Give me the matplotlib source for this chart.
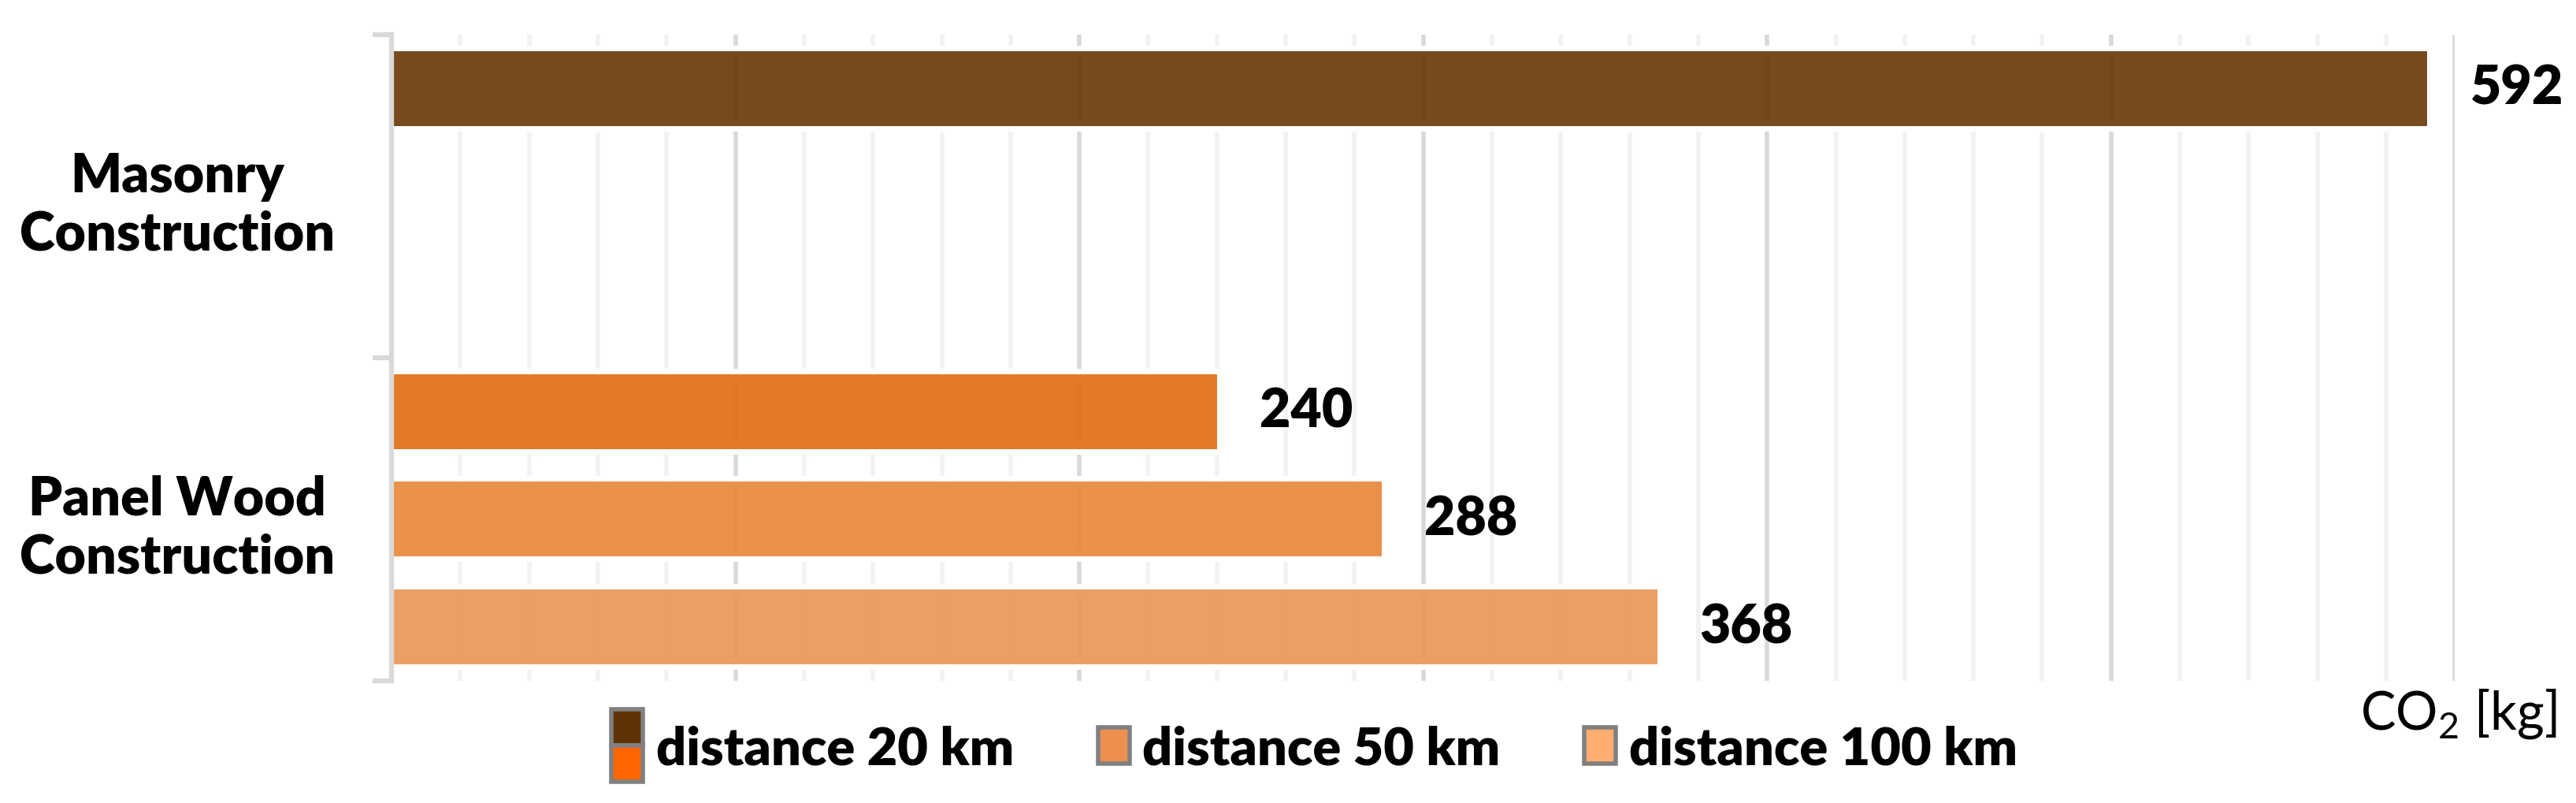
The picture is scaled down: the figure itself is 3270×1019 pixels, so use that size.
import matplotlib
matplotlib.use('Agg')
import matplotlib.pyplot as plt
from matplotlib.patches import Rectangle, Patch
from matplotlib.legend_handler import HandlerBase
from matplotlib.ticker import MultipleLocator, NullFormatter

# data (CO2 in kg)
categories = ['Masonry\nConstruction', 'Panel Wood\nConstruction']
series = ['distance 20 km', 'distance 50 km', 'distance 100 km']
masonry_co2 = [592, None, None]
panel_co2 = [240, 288, 368]

# bar colours (drawn with alpha) and legend swatch colours
masonry_colors = ['#683605', None, None]
panel_colors = ['#E26C0D', '#E88537', '#EA9551']
legend_colors = [['#5F3206', '#FF6600'], ['#EE8F4F'], ['#FFAD70']]

plt.rcParams['font.family'] = ['Lato', 'DejaVu Sans']
plt.rcParams['mathtext.fontset'] = 'custom'
plt.rcParams['mathtext.rm'] = 'Lato'

BOLD = 800


class StackedSquares(HandlerBase):
    # one square per colour, stacked vertically around the handle centre
    def create_artists(self, legend, orig_handle, xdescent, ydescent,
                       width, height, fontsize, trans):
        n = len(orig_handle)
        arts = []
        for k, p in enumerate(orig_handle):
            y = -ydescent + height / 2 - n * height / 2 + (n - 1 - k) * height
            r = Rectangle((-xdescent, y), width, height,
                          facecolor=p.get_facecolor(), edgecolor='#808080',
                          linewidth=4, transform=trans)
            arts.append(r)
        return arts


fig = plt.figure(figsize=(32.7, 10.2), dpi=100)
ax = fig.add_axes([0.152, 0.152, 0.801, 0.804])

values = [masonry_co2, panel_co2]
colors = [masonry_colors, panel_colors]
for c, (vals, cols) in enumerate(zip(values, colors)):
    for i, (v, col) in enumerate(zip(vals, cols)):
        if v is None:
            continue
        y = c * 3 + i + 0.5
        ax.barh(y, v, height=0.695, facecolor='none', edgecolor='white',
                linewidth=10, zorder=2)
        ax.barh(y, v, height=0.695, color=col, alpha=0.9, linewidth=0, zorder=3)
        ax.annotate(str(v), xy=(v, y), xytext=(39, 0), textcoords='offset points',
                    va='center', ha='left', fontsize=49, fontweight=BOLD)

ax.set_xlim(0, 600)
ax.set_ylim(6, 0)
ax.xaxis.set_major_locator(MultipleLocator(100))
ax.xaxis.set_minor_locator(MultipleLocator(20))
ax.grid(axis='x', which='major', color='#D9D9D9', linewidth=4)
ax.grid(axis='x', which='minor', color='#F2F2F2', linewidth=4)
ax.set_axisbelow(True)
ax.tick_params(axis='x', which='both', length=0, labelbottom=False)

for s in ['top', 'right', 'bottom']:
    ax.spines[s].set_visible(False)
ax.spines['left'].set_color('#D9D9D9')
ax.spines['left'].set_linewidth(4.5)
ax.spines['left'].set_zorder(5)

ax.set_yticks([0, 3, 6])
ax.yaxis.set_major_formatter(NullFormatter())
ax.set_yticks([1.5, 4.5], minor=True)
ax.set_yticklabels(categories, minor=True, fontsize=49, fontweight=BOLD,
                   multialignment='center')
ax.tick_params(axis='y', which='major', length=17, width=4.5, color='#D9D9D9')
ax.tick_params(axis='y', which='minor', length=0, pad=52)

handles = [tuple(Patch(facecolor=c) for c in cs) for cs in legend_colors]
fig.legend(handles, series, handler_map={tuple: StackedSquares()},
           loc='center left', bbox_to_anchor=(0.2373, 0.068), ncol=3,
           frameon=False, prop=dict(weight=BOLD, size=48),
           handlelength=0.6, handleheight=0.68, handletextpad=0.25,
           columnspacing=1.6, borderpad=0, borderaxespad=0)

fig.text(3121 / 3270, 0.0931, r'CO$_\mathrm{2}$ [kg]', ha='center', va='baseline',
         fontsize=48)

fig.savefig('out.png', dpi=100)
